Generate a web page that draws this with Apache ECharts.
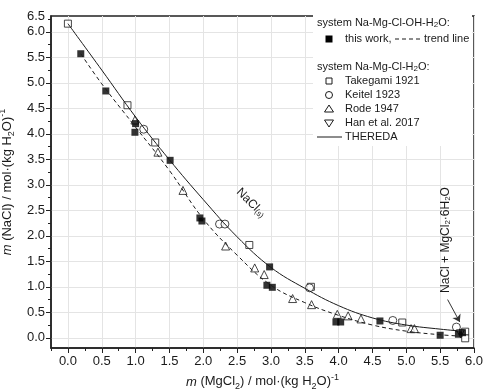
<!DOCTYPE html>
<html>
<head>
<meta charset="utf-8">
<script src="https://cdn.jsdelivr.net/npm/echarts@6/dist/echarts.min.js"></script>
<style>
html, body { margin: 0; padding: 0; background: #fff; }
#chart { width: 484px; height: 390px; }
</style>
</head>
<body>
<div id="chart"></div>
<script>
// system Na-Mg-Cl-OH-H2O, this work
const thisWork = [[0.19, 5.57], [0.56, 4.84], [1.0, 4.20], [0.99, 4.03], [1.51, 3.48], [1.95, 2.35], [1.98, 2.29],
  [2.98, 1.39], [2.94, 1.03], [3.02, 0.99], [3.96, 0.31], [4.03, 0.31], [4.61, 0.33], [5.50, 0.05], [5.77, 0.07], [5.83, 0.10]];
// trend line through this work
const trendLine = [[0.19, 5.57], [0.5, 4.98], [1.0, 4.13], [1.5, 3.28], [2.0, 2.33], [2.5, 1.62], [3.0, 1.03],
  [3.5, 0.69], [4.0, 0.44], [4.5, 0.25], [5.0, 0.13], [5.5, 0.06], [5.85, 0.03]];
// system Na-Mg-Cl-H2O, literature
const takegami = [[0.0, 6.16], [0.88, 4.56], [1.29, 3.83], [2.68, 1.82], [3.59, 1.00], [4.94, 0.30], [5.87, 0.12], [5.87, -0.01]];
const keitel = [[1.12, 4.09], [2.24, 2.23], [2.32, 2.23], [3.57, 0.98], [4.80, 0.34], [5.74, 0.21]];
const rode = [[0.99, 4.27], [1.33, 3.64], [1.70, 2.89], [2.33, 1.80], [2.76, 1.37], [2.90, 1.24], [3.32, 0.77],
  [3.60, 0.65], [3.98, 0.46], [4.14, 0.43], [4.33, 0.37], [5.07, 0.18], [5.12, 0.18]];
const han = [[5.80, 0.08]];
// THEREDA model
const thereda = [[0.0, 6.16], [0.5, 5.25], [1.0, 4.33], [1.5, 3.49], [2.0, 2.71], [2.5, 1.98], [3.0, 1.38],
  [3.5, 0.97], [4.0, 0.63], [4.5, 0.39], [5.0, 0.25], [5.5, 0.17], [5.82, 0.13]];
// arrow to invariant point
const arrowFrom = [5.61, 0.75];
const arrowTo = [5.79, 0.31];

// axes
const xMin = -0.25, xMax = 6.0;
const yMin = -0.2, yMax = 6.31;
const xTicks = [0, 0.5, 1, 1.5, 2, 2.5, 3, 3.5, 4, 4.5, 5, 5.5, 6];
const xMinorTicks = [-0.25, 0.25, 0.75, 1.25, 1.75, 2.25, 2.75, 3.25, 3.75, 4.25, 4.75, 5.25, 5.75];
const yTicks = [0, 0.5, 1, 1.5, 2, 2.5, 3, 3.5, 4, 4.5, 5, 5.5, 6];
const yMinorTicks = [0.25, 0.75, 1.25, 1.75, 2.25, 2.75, 3.25, 3.75, 4.25, 4.75, 5.25, 5.75, 6.25];
const yTopLabel = '6.5';

const F = "'Liberation Sans', Arial, sans-serif";
const INK = '#1a1a1a';
const AX = '#222';

const nameRich = {
  i: { fontStyle: 'italic', fontSize: 13, fontFamily: F, color: INK, lineHeight: 18 },
  n: { fontSize: 13, fontFamily: F, color: INK, lineHeight: 18 },
  b: { fontSize: 9, fontFamily: F, color: INK, lineHeight: 10, verticalAlign: 'bottom' },
  p: { fontSize: 9, fontFamily: F, color: INK, lineHeight: 10, verticalAlign: 'top' }
};
const smallRich = {
  b: { fontSize: 8, fontFamily: F, color: INK, lineHeight: 8, verticalAlign: 'bottom' }
};

const openStyle = { color: '#fff', borderColor: INK, borderWidth: 1 };

// minor tick axis (no line, labels or grid)
const minorAxis = (min, max, values, position) => ({
  type: 'value', min: min, max: max, position: position,
  axisLine: { show: false, onZero: false },
  axisTick: { show: true, length: 3, customValues: values, lineStyle: { color: AX } },
  axisLabel: { show: false },
  splitLine: { show: false }
});

const myChart = echarts.init(document.getElementById('chart'));

const option = {
  animation: false,
  textStyle: { fontFamily: F },
  grid: {
    left: 51, right: 10, top: 16, bottom: 42,
    containLabel: false, outerBoundsMode: 'none',
    show: true, borderColor: AX, borderWidth: 1.5, backgroundColor: 'transparent'
  },
  xAxis: [
    {
      type: 'value', min: xMin, max: xMax, position: 'bottom',
      name: '{i|m}{n| (MgCl}{b|2}{n|) / mol·(kg H}{b|2}{n|O)}{p|-1}',
      nameLocation: 'middle', nameGap: 15,
      nameTextStyle: { rich: nameRich },
      axisLine: { onZero: false, lineStyle: { color: AX, width: 1.5 } },
      axisTick: { length: 5, customValues: xTicks, lineStyle: { color: AX } },
      splitLine: { show: true, lineStyle: { color: '#e4e4e4', width: 1 } },
      axisLabel: { customValues: xTicks, fontSize: 13, color: INK, margin: 7, formatter: v => v.toFixed(1) }
    },
    minorAxis(xMin, xMax, xMinorTicks, 'bottom')
  ],
  yAxis: [
    {
      type: 'value', min: yMin, max: yMax, position: 'left',
      name: '{i|m}{n| (NaCl) / mol·(kg H}{b|2}{n|O)}{p|-1}',
      nameLocation: 'middle', nameGap: 21,
      nameTextStyle: { rich: nameRich },
      axisLine: { onZero: false, lineStyle: { color: AX, width: 1.5 } },
      axisTick: { length: 5, customValues: yTicks, lineStyle: { color: AX } },
      splitLine: { show: true, lineStyle: { color: '#e4e4e4', width: 1 } },
      axisLabel: {
        customValues: yTicks.concat([yMax]), fontSize: 13, color: INK, margin: 6,
        formatter: v => (v === yMax ? yTopLabel : v.toFixed(1))
      }
    },
    minorAxis(yMin, yMax, yMinorTicks, 'left')
  ],
  series: [
    {
      name: 'THEREDA', type: 'line', data: thereda, smooth: 0.4, showSymbol: false,
      lineStyle: { color: INK, width: 1 },
      markLine: {
        silent: true, symbol: ['none', 'arrow'], symbolSize: 7,
        label: { show: false },
        lineStyle: { color: '#333', width: 1, type: 'solid' },
        data: [[{ coord: arrowFrom }, { coord: arrowTo }]]
      }
    },
    {
      name: 'trend line', type: 'line', data: trendLine, smooth: 0.4, showSymbol: false,
      lineStyle: { color: INK, width: 1, type: [4, 3] }
    },
    { name: 'Takegami 1921', type: 'scatter', data: takegami, symbol: 'rect', symbolSize: 7, itemStyle: openStyle },
    { name: 'Keitel 1923', type: 'scatter', data: keitel, symbol: 'circle', symbolSize: 8, itemStyle: openStyle },
    { name: 'Rode 1947', type: 'scatter', data: rode, symbol: 'triangle', symbolSize: 8, itemStyle: openStyle },
    { name: 'Han et al. 2017', type: 'scatter', data: han, symbol: 'triangle', symbolRotate: 180, symbolSize: 8, itemStyle: openStyle },
    { name: 'this work', type: 'scatter', data: thisWork, symbol: 'rect', symbolSize: 7, itemStyle: { color: '#000' } }
  ],
  graphic: [
    // legend block
    { type: 'rect', left: 313, top: 12, z: 10, shape: { width: 159, height: 134 }, style: { fill: '#fff' } },
    { type: 'text', x: 317, y: 23, z: 11, style: { text: 'system Na-Mg-Cl-OH-H{b|2}O:', fontSize: 11, fontFamily: F, fill: INK, verticalAlign: 'middle', rich: smallRich } },
    { type: 'rect', z: 11, shape: { x: 325.5, y: 35.5, width: 7, height: 7 }, style: { fill: '#000' } },
    { type: 'text', x: 345, y: 39, z: 11, style: { text: 'this work,', fontSize: 11, fontFamily: F, fill: INK, verticalAlign: 'middle' } },
    { type: 'line', z: 11, shape: { x1: 395, y1: 39, x2: 421, y2: 39 }, style: { stroke: INK, lineWidth: 1, lineDash: [4, 3] } },
    { type: 'text', x: 424, y: 39, z: 11, style: { text: 'trend line', fontSize: 11, fontFamily: F, fill: INK, verticalAlign: 'middle' } },
    { type: 'text', x: 317, y: 67, z: 11, style: { text: 'system Na-Mg-Cl-H{b|2}O:', fontSize: 11, fontFamily: F, fill: INK, verticalAlign: 'middle', rich: smallRich } },
    { type: 'rect', z: 11, shape: { x: 326, y: 78, width: 6, height: 6 }, style: { fill: '#fff', stroke: INK, lineWidth: 1 } },
    { type: 'text', x: 345, y: 81, z: 11, style: { text: 'Takegami 1921', fontSize: 11, fontFamily: F, fill: INK, verticalAlign: 'middle' } },
    { type: 'circle', z: 11, shape: { cx: 329, cy: 95, r: 3.5 }, style: { fill: '#fff', stroke: INK, lineWidth: 1 } },
    { type: 'text', x: 345, y: 95, z: 11, style: { text: 'Keitel 1923', fontSize: 11, fontFamily: F, fill: INK, verticalAlign: 'middle' } },
    { type: 'polygon', z: 11, shape: { points: [[329, 105], [333.5, 112], [324.5, 112]] }, style: { fill: '#fff', stroke: INK, lineWidth: 1 } },
    { type: 'text', x: 345, y: 109, z: 11, style: { text: 'Rode 1947', fontSize: 11, fontFamily: F, fill: INK, verticalAlign: 'middle' } },
    { type: 'polygon', z: 11, shape: { points: [[324.5, 120], [333.5, 120], [329, 127]] }, style: { fill: '#fff', stroke: INK, lineWidth: 1 } },
    { type: 'text', x: 345, y: 123, z: 11, style: { text: 'Han et al. 2017', fontSize: 11, fontFamily: F, fill: INK, verticalAlign: 'middle' } },
    { type: 'line', z: 11, shape: { x1: 317, y1: 137, x2: 342, y2: 137 }, style: { stroke: INK, lineWidth: 1 } },
    { type: 'text', x: 345, y: 137, z: 11, style: { text: 'THEREDA', fontSize: 11, fontFamily: F, fill: INK, verticalAlign: 'middle' } },
    // phase labels
    { type: 'text', x: 251, y: 203, rotation: -Math.PI / 4, z: 11,
      style: { text: 'NaCl{b|(s)}', fontSize: 12, fontFamily: F, fill: INK, align: 'center', verticalAlign: 'middle', rich: smallRich } },
    { type: 'text', x: 446, y: 240, rotation: Math.PI / 2, z: 11,
      style: { text: 'NaCl + MgCl{b|2}·6H{b|2}O', fontSize: 12, fontFamily: F, fill: INK, align: 'center', verticalAlign: 'middle', rich: smallRich } }
  ]
};

myChart.setOption(option);
window.addEventListener('resize', () => myChart.resize());
</script>
</body>
</html>
